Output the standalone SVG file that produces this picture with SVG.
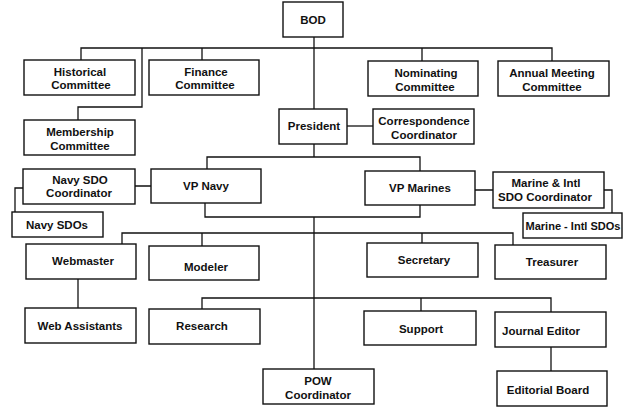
<svg xmlns="http://www.w3.org/2000/svg" width="640" height="413" viewBox="0 0 640 413">
<style>
.b{fill:#fff;stroke:#111;stroke-width:1.4}
.t{font-family:"Liberation Sans",Arial,sans-serif;font-weight:bold;font-size:11.5px;fill:#111;text-anchor:middle}
.c{fill:none;stroke:#111;stroke-width:1.3}
</style>
<rect width="640" height="413" fill="#fff"/>
<g id="connectors" class="c">
<path d="M314 37V109"/>
<path d="M81 60V48H552V61M142 48V107H78V120M202 48V60M422 48V61"/>
<path d="M347 126H373"/>
<path d="M314 144V157M207 169V157H420V171"/>
<path d="M135 186H151M23 188H15V212"/>
<path d="M475 190H493M604 190H612V213"/>
<path d="M205 203V217H420V205M314 217V369"/>
<path d="M122 244V233H513V245M202 233V246M422 233V243"/>
<path d="M78 279V308"/>
<path d="M202 309V298H551V312M421 298V311"/>
<path d="M551 347V371"/>
</g>
<g id="bod"><rect class="b" x="283" y="2" width="60" height="35"/><text class="t" x="313" y="24">BOD</text></g>
<g id="historical"><rect class="b" x="24" y="60" width="111" height="35"/><text class="t" x="80" y="76">Historical</text><text class="t" x="81" y="89">Committee</text></g>
<g id="finance"><rect class="b" x="149" y="60" width="110" height="35"/><text class="t" x="206" y="76">Finance</text><text class="t" x="205" y="89">Committee</text></g>
<g id="nominating"><rect class="b" x="368" y="61" width="110" height="35"/><text class="t" x="426" y="77">Nominating</text><text class="t" x="425" y="91">Committee</text></g>
<g id="annual"><rect class="b" x="498" y="61" width="111" height="35"/><text class="t" x="552" y="77">Annual Meeting</text><text class="t" x="552" y="91">Committee</text></g>
<g id="membership"><rect class="b" x="24" y="120" width="111" height="35"/><text class="t" x="80" y="136">Membership</text><text class="t" x="80" y="150">Committee</text></g>
<g id="president"><rect class="b" x="279" y="109" width="68" height="35"/><text class="t" x="314" y="130">President</text></g>
<g id="correspondence"><rect class="b" x="373" y="109" width="101" height="35"/><text class="t" x="424" y="125">Correspondence</text><text class="t" x="424" y="139">Coordinator</text></g>
<g id="navy-sdo-coord"><rect class="b" x="23" y="169" width="112" height="35"/><text class="t" x="80" y="184">Navy SDO</text><text class="t" x="79" y="197">Coordinator</text></g>
<g id="navy-sdos"><rect class="b" x="12" y="212" width="91" height="25"/><text class="t" x="57" y="229">Navy SDOs</text></g>
<g id="vp-navy"><rect class="b" x="151" y="169" width="110" height="34"/><text class="t" x="206" y="190">VP Navy</text></g>
<g id="vp-marines"><rect class="b" x="365" y="171" width="110" height="34"/><text class="t" x="420" y="192">VP Marines</text></g>
<g id="marine-coord"><rect class="b" x="493" y="172" width="111" height="36"/><text class="t" x="546" y="187">Marine &amp; Intl</text><text class="t" x="545" y="201">SDO Coordinator</text></g>
<g id="marine-sdos"><rect class="b" x="523" y="213" width="99" height="25"/><text class="t" x="573" y="230" textLength="95" lengthAdjust="spacingAndGlyphs">Marine - Intl SDOs</text></g>
<g id="webmaster"><rect class="b" x="26" y="244" width="110" height="35"/><text class="t" x="83" y="265">Webmaster</text></g>
<g id="modeler"><rect class="b" x="149" y="246" width="110" height="34"/><text class="t" x="206" y="271">Modeler</text></g>
<g id="secretary"><rect class="b" x="367" y="243" width="111" height="34"/><text class="t" x="424" y="264">Secretary</text></g>
<g id="treasurer"><rect class="b" x="495" y="245" width="111" height="34"/><text class="t" x="552" y="266">Treasurer</text></g>
<g id="web-assistants"><rect class="b" x="25" y="308" width="111" height="35"/><text class="t" x="80" y="330">Web Assistants</text></g>
<g id="research"><rect class="b" x="149" y="309" width="111" height="35"/><text class="t" x="202" y="330">Research</text></g>
<g id="support"><rect class="b" x="364" y="311" width="112" height="34"/><text class="t" x="421" y="333">Support</text></g>
<g id="journal-editor"><rect class="b" x="495" y="312" width="111" height="35"/><text class="t" x="541" y="335">Journal Editor</text></g>
<g id="pow"><rect class="b" x="263" y="369" width="111" height="35"/><text class="t" x="318" y="385">POW</text><text class="t" x="318" y="399">Coordinator</text></g>
<g id="editorial-board"><rect class="b" x="497" y="371" width="110" height="35"/><text class="t" x="548" y="394">Editorial Board</text></g>
</svg>
